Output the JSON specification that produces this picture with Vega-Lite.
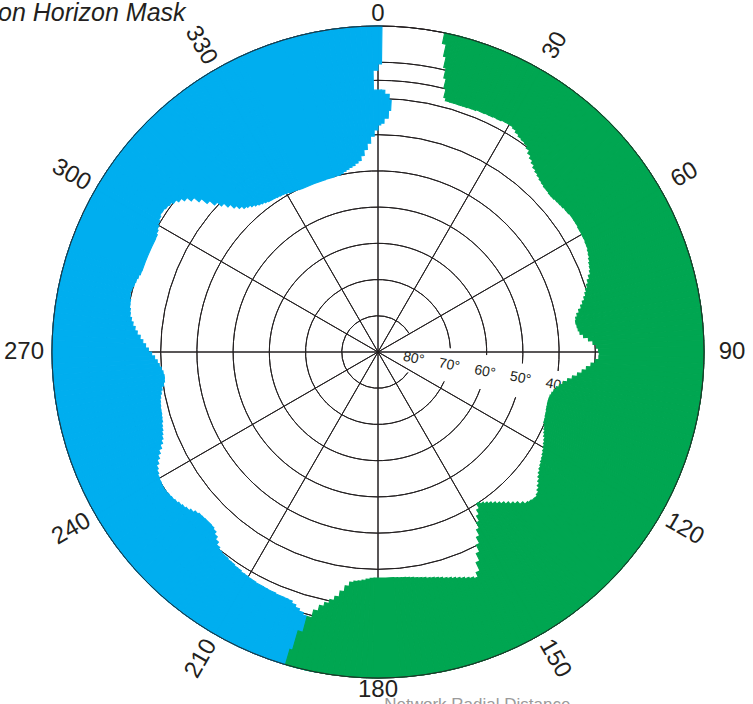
{
  "$schema": "https://vega.github.io/schema/vega-lite/v6.json",
  "width": 756,
  "height": 704,
  "autosize": "none",
  "padding": 0,
  "background": "white",
  "title": {"text": "Station Horizon Mask", "anchor": "start", "frame": "group", "orient": "top", "offset": -46, "dx": -52, "baseline": "alphabetic", "font": "Liberation Sans", "fontSize": 25, "fontStyle": "italic", "fontWeight": "normal", "color": "#231f20"},
  "config": {"view": {"stroke": null}},
  "datasets": {
    "mask": [
      {"mask": "green", "from": 11.8, "to": 12.5, "elev": 3.0, "top": 0},
      {"mask": "green", "from": 12.5, "to": 13, "elev": 6.4, "top": 0},
      {"mask": "green", "from": 13, "to": 13.5, "elev": 9.4, "top": 0},
      {"mask": "green", "from": 13.5, "to": 14, "elev": 12.2, "top": 0},
      {"mask": "green", "from": 14, "to": 14.5, "elev": 14.9, "top": 0},
      {"mask": "green", "from": 14.5, "to": 15, "elev": 17.4, "top": 0},
      {"mask": "green", "from": 15, "to": 16, "elev": 18.2, "top": 0},
      {"mask": "green", "from": 16, "to": 17, "elev": 18.2, "top": 0},
      {"mask": "green", "from": 17, "to": 18, "elev": 18.2, "top": 0},
      {"mask": "green", "from": 18, "to": 19, "elev": 18.2, "top": 0},
      {"mask": "green", "from": 19, "to": 20, "elev": 18.2, "top": 0},
      {"mask": "green", "from": 20, "to": 21, "elev": 18.1, "top": 0},
      {"mask": "green", "from": 21, "to": 22, "elev": 18.1, "top": 0},
      {"mask": "green", "from": 22, "to": 23, "elev": 17.9, "top": 0},
      {"mask": "green", "from": 23, "to": 24, "elev": 17.9, "top": 0},
      {"mask": "green", "from": 24, "to": 25, "elev": 17.8, "top": 0},
      {"mask": "green", "from": 25, "to": 26, "elev": 17.8, "top": 0},
      {"mask": "green", "from": 26, "to": 27, "elev": 17.7, "top": 0},
      {"mask": "green", "from": 27, "to": 28, "elev": 17.7, "top": 0},
      {"mask": "green", "from": 28, "to": 29, "elev": 17.5, "top": 0},
      {"mask": "green", "from": 29, "to": 30, "elev": 17.5, "top": 0},
      {"mask": "green", "from": 30, "to": 31, "elev": 17.5, "top": 0},
      {"mask": "green", "from": 31, "to": 32, "elev": 17.9, "top": 0},
      {"mask": "green", "from": 32, "to": 33, "elev": 18.5, "top": 0},
      {"mask": "green", "from": 33, "to": 34, "elev": 19.0, "top": 0},
      {"mask": "green", "from": 34, "to": 35, "elev": 19.3, "top": 0},
      {"mask": "green", "from": 35, "to": 36, "elev": 19.7, "top": 0},
      {"mask": "green", "from": 36, "to": 37, "elev": 20.4, "top": 0},
      {"mask": "green", "from": 37, "to": 38, "elev": 21.3, "top": 0},
      {"mask": "green", "from": 38, "to": 39, "elev": 22.1, "top": 0},
      {"mask": "green", "from": 39, "to": 40, "elev": 22.8, "top": 0},
      {"mask": "green", "from": 40, "to": 41, "elev": 23.5, "top": 0},
      {"mask": "green", "from": 41, "to": 42, "elev": 24.0, "top": 0},
      {"mask": "green", "from": 42, "to": 43, "elev": 24.4, "top": 0},
      {"mask": "green", "from": 43, "to": 44, "elev": 24.8, "top": 0},
      {"mask": "green", "from": 44, "to": 45, "elev": 25.1, "top": 0},
      {"mask": "green", "from": 45, "to": 46, "elev": 25.4, "top": 0},
      {"mask": "green", "from": 46, "to": 47, "elev": 25.5, "top": 0},
      {"mask": "green", "from": 47, "to": 48, "elev": 25.7, "top": 0},
      {"mask": "green", "from": 48, "to": 49, "elev": 25.7, "top": 0},
      {"mask": "green", "from": 49, "to": 50, "elev": 25.5, "top": 0},
      {"mask": "green", "from": 50, "to": 51, "elev": 25.4, "top": 0},
      {"mask": "green", "from": 51, "to": 52, "elev": 25.3, "top": 0},
      {"mask": "green", "from": 52, "to": 53, "elev": 25.1, "top": 0},
      {"mask": "green", "from": 53, "to": 54, "elev": 25.0, "top": 0},
      {"mask": "green", "from": 54, "to": 55, "elev": 24.8, "top": 0},
      {"mask": "green", "from": 55, "to": 56, "elev": 24.8, "top": 0},
      {"mask": "green", "from": 56, "to": 57, "elev": 24.8, "top": 0},
      {"mask": "green", "from": 57, "to": 58, "elev": 24.8, "top": 0},
      {"mask": "green", "from": 58, "to": 59, "elev": 25.0, "top": 0},
      {"mask": "green", "from": 59, "to": 60, "elev": 25.0, "top": 0},
      {"mask": "green", "from": 60, "to": 61, "elev": 25.1, "top": 0},
      {"mask": "green", "from": 61, "to": 62, "elev": 25.1, "top": 0},
      {"mask": "green", "from": 62, "to": 63, "elev": 25.3, "top": 0},
      {"mask": "green", "from": 63, "to": 64, "elev": 25.4, "top": 0},
      {"mask": "green", "from": 64, "to": 65, "elev": 25.7, "top": 0},
      {"mask": "green", "from": 65, "to": 66, "elev": 26.0, "top": 0},
      {"mask": "green", "from": 66, "to": 67, "elev": 26.4, "top": 0},
      {"mask": "green", "from": 67, "to": 68, "elev": 26.8, "top": 0},
      {"mask": "green", "from": 68, "to": 69, "elev": 27.1, "top": 0},
      {"mask": "green", "from": 69, "to": 70, "elev": 27.5, "top": 0},
      {"mask": "green", "from": 70, "to": 71, "elev": 28.2, "top": 0},
      {"mask": "green", "from": 71, "to": 72, "elev": 28.9, "top": 0},
      {"mask": "green", "from": 72, "to": 73, "elev": 29.5, "top": 0},
      {"mask": "green", "from": 73, "to": 74, "elev": 30.1, "top": 0},
      {"mask": "green", "from": 74, "to": 75, "elev": 30.6, "top": 0},
      {"mask": "green", "from": 75, "to": 76, "elev": 31.2, "top": 0},
      {"mask": "green", "from": 76, "to": 77, "elev": 31.9, "top": 0},
      {"mask": "green", "from": 77, "to": 78, "elev": 32.6, "top": 0},
      {"mask": "green", "from": 78, "to": 79, "elev": 33.4, "top": 0},
      {"mask": "green", "from": 79, "to": 80, "elev": 34.1, "top": 0},
      {"mask": "green", "from": 80, "to": 81, "elev": 34.6, "top": 0},
      {"mask": "green", "from": 81, "to": 82, "elev": 34.8, "top": 0},
      {"mask": "green", "from": 82, "to": 83, "elev": 34.6, "top": 0},
      {"mask": "green", "from": 83, "to": 84, "elev": 34.4, "top": 0},
      {"mask": "green", "from": 84, "to": 85, "elev": 34.0, "top": 0},
      {"mask": "green", "from": 85, "to": 86, "elev": 33.1, "top": 0},
      {"mask": "green", "from": 86, "to": 87, "elev": 31.8, "top": 0},
      {"mask": "green", "from": 87, "to": 88, "elev": 30.6, "top": 0},
      {"mask": "green", "from": 88, "to": 89, "elev": 29.7, "top": 0},
      {"mask": "green", "from": 89, "to": 90, "elev": 29.1, "top": 0},
      {"mask": "green", "from": 90, "to": 91, "elev": 28.9, "top": 0},
      {"mask": "green", "from": 91, "to": 92, "elev": 29.0, "top": 0},
      {"mask": "green", "from": 92, "to": 93, "elev": 30.0, "top": 0},
      {"mask": "green", "from": 93, "to": 94, "elev": 31.1, "top": 0},
      {"mask": "green", "from": 94, "to": 95, "elev": 32.3, "top": 0},
      {"mask": "green", "from": 95, "to": 96, "elev": 33.4, "top": 0},
      {"mask": "green", "from": 96, "to": 97, "elev": 34.6, "top": 0},
      {"mask": "green", "from": 97, "to": 98, "elev": 35.9, "top": 0},
      {"mask": "green", "from": 98, "to": 99, "elev": 37.1, "top": 0},
      {"mask": "green", "from": 99, "to": 100, "elev": 38.2, "top": 0},
      {"mask": "green", "from": 100, "to": 101, "elev": 39.1, "top": 0},
      {"mask": "green", "from": 101, "to": 102, "elev": 39.8, "top": 0},
      {"mask": "green", "from": 102, "to": 103, "elev": 40.3, "top": 0},
      {"mask": "green", "from": 103, "to": 104, "elev": 40.7, "top": 0},
      {"mask": "green", "from": 104, "to": 105, "elev": 41.0, "top": 0},
      {"mask": "green", "from": 105, "to": 106, "elev": 41.1, "top": 0},
      {"mask": "green", "from": 106, "to": 107, "elev": 41.1, "top": 0},
      {"mask": "green", "from": 107, "to": 108, "elev": 41.0, "top": 0},
      {"mask": "green", "from": 108, "to": 109, "elev": 40.9, "top": 0},
      {"mask": "green", "from": 109, "to": 110, "elev": 40.7, "top": 0},
      {"mask": "green", "from": 110, "to": 111, "elev": 40.6, "top": 0},
      {"mask": "green", "from": 111, "to": 112, "elev": 40.4, "top": 0},
      {"mask": "green", "from": 112, "to": 113, "elev": 40.3, "top": 0},
      {"mask": "green", "from": 113, "to": 114, "elev": 39.9, "top": 0},
      {"mask": "green", "from": 114, "to": 115, "elev": 39.5, "top": 0},
      {"mask": "green", "from": 115, "to": 116, "elev": 39.1, "top": 0},
      {"mask": "green", "from": 116, "to": 117, "elev": 38.7, "top": 0},
      {"mask": "green", "from": 117, "to": 118, "elev": 38.2, "top": 0},
      {"mask": "green", "from": 118, "to": 119, "elev": 37.8, "top": 0},
      {"mask": "green", "from": 119, "to": 120, "elev": 37.4, "top": 0},
      {"mask": "green", "from": 120, "to": 121, "elev": 37.0, "top": 0},
      {"mask": "green", "from": 121, "to": 122, "elev": 36.6, "top": 0},
      {"mask": "green", "from": 122, "to": 123, "elev": 36.2, "top": 0},
      {"mask": "green", "from": 123, "to": 124, "elev": 35.9, "top": 0},
      {"mask": "green", "from": 124, "to": 125, "elev": 35.5, "top": 0},
      {"mask": "green", "from": 125, "to": 126, "elev": 35.1, "top": 0},
      {"mask": "green", "from": 126, "to": 127, "elev": 34.6, "top": 0},
      {"mask": "green", "from": 127, "to": 128, "elev": 34.0, "top": 0},
      {"mask": "green", "from": 128, "to": 129, "elev": 33.3, "top": 0},
      {"mask": "green", "from": 129, "to": 130, "elev": 32.6, "top": 0},
      {"mask": "green", "from": 130, "to": 131, "elev": 31.9, "top": 0},
      {"mask": "green", "from": 131, "to": 132, "elev": 31.2, "top": 0},
      {"mask": "green", "from": 132, "to": 133, "elev": 30.8, "top": 0},
      {"mask": "green", "from": 133, "to": 134, "elev": 30.9, "top": 0},
      {"mask": "green", "from": 134, "to": 135, "elev": 31.2, "top": 0},
      {"mask": "green", "from": 135, "to": 136, "elev": 31.6, "top": 0},
      {"mask": "green", "from": 136, "to": 137, "elev": 32.5, "top": 0},
      {"mask": "green", "from": 137, "to": 138, "elev": 33.5, "top": 0},
      {"mask": "green", "from": 138, "to": 139, "elev": 34.3, "top": 0},
      {"mask": "green", "from": 139, "to": 140, "elev": 35.2, "top": 0},
      {"mask": "green", "from": 140, "to": 141, "elev": 36.0, "top": 0},
      {"mask": "green", "from": 141, "to": 142, "elev": 36.7, "top": 0},
      {"mask": "green", "from": 142, "to": 143, "elev": 37.5, "top": 0},
      {"mask": "green", "from": 143, "to": 144, "elev": 38.2, "top": 0},
      {"mask": "green", "from": 144, "to": 145, "elev": 38.8, "top": 0},
      {"mask": "green", "from": 145, "to": 146, "elev": 39.4, "top": 0},
      {"mask": "green", "from": 146, "to": 147, "elev": 40.0, "top": 0},
      {"mask": "green", "from": 147, "to": 148, "elev": 38.6, "top": 0},
      {"mask": "green", "from": 148, "to": 149, "elev": 37.2, "top": 0},
      {"mask": "green", "from": 149, "to": 150, "elev": 35.6, "top": 0},
      {"mask": "green", "from": 150, "to": 151, "elev": 33.9, "top": 0},
      {"mask": "green", "from": 151, "to": 152, "elev": 32.1, "top": 0},
      {"mask": "green", "from": 152, "to": 153, "elev": 30.2, "top": 0},
      {"mask": "green", "from": 153, "to": 154, "elev": 28.1, "top": 0},
      {"mask": "green", "from": 154, "to": 155, "elev": 25.9, "top": 0},
      {"mask": "green", "from": 155, "to": 156, "elev": 23.4, "top": 0},
      {"mask": "green", "from": 156, "to": 157, "elev": 22.0, "top": 0},
      {"mask": "green", "from": 157, "to": 158, "elev": 22.5, "top": 0},
      {"mask": "green", "from": 158, "to": 159, "elev": 22.9, "top": 0},
      {"mask": "green", "from": 159, "to": 160, "elev": 23.4, "top": 0},
      {"mask": "green", "from": 160, "to": 161, "elev": 23.8, "top": 0},
      {"mask": "green", "from": 161, "to": 162, "elev": 24.2, "top": 0},
      {"mask": "green", "from": 162, "to": 163, "elev": 24.6, "top": 0},
      {"mask": "green", "from": 163, "to": 164, "elev": 24.9, "top": 0},
      {"mask": "green", "from": 164, "to": 165, "elev": 25.3, "top": 0},
      {"mask": "green", "from": 165, "to": 166, "elev": 25.6, "top": 0},
      {"mask": "green", "from": 166, "to": 167, "elev": 25.9, "top": 0},
      {"mask": "green", "from": 167, "to": 168, "elev": 26.1, "top": 0},
      {"mask": "green", "from": 168, "to": 169, "elev": 26.4, "top": 0},
      {"mask": "green", "from": 169, "to": 170, "elev": 26.6, "top": 0},
      {"mask": "green", "from": 170, "to": 171, "elev": 26.8, "top": 0},
      {"mask": "green", "from": 171, "to": 172, "elev": 27.0, "top": 0},
      {"mask": "green", "from": 172, "to": 173, "elev": 27.2, "top": 0},
      {"mask": "green", "from": 173, "to": 174, "elev": 27.3, "top": 0},
      {"mask": "green", "from": 174, "to": 175, "elev": 27.4, "top": 0},
      {"mask": "green", "from": 175, "to": 176, "elev": 27.5, "top": 0},
      {"mask": "green", "from": 176, "to": 181, "elev": 27.6, "top": 0},
      {"mask": "green", "from": 181, "to": 182, "elev": 27.5, "top": 0},
      {"mask": "green", "from": 182, "to": 183, "elev": 27.2, "top": 0},
      {"mask": "green", "from": 183, "to": 184, "elev": 26.9, "top": 0},
      {"mask": "green", "from": 184, "to": 185, "elev": 26.6, "top": 0},
      {"mask": "green", "from": 185, "to": 186, "elev": 26.4, "top": 0},
      {"mask": "green", "from": 186, "to": 187, "elev": 26.0, "top": 0},
      {"mask": "green", "from": 187, "to": 188, "elev": 24.8, "top": 0},
      {"mask": "green", "from": 188, "to": 189, "elev": 23.2, "top": 0},
      {"mask": "green", "from": 189, "to": 190, "elev": 21.5, "top": 0},
      {"mask": "green", "from": 190, "to": 191, "elev": 20.4, "top": 0},
      {"mask": "green", "from": 191, "to": 192, "elev": 19.3, "top": 0},
      {"mask": "green", "from": 192, "to": 193, "elev": 18.2, "top": 0},
      {"mask": "green", "from": 193, "to": 194, "elev": 16.6, "top": 0},
      {"mask": "green", "from": 194, "to": 195, "elev": 14.4, "top": 0},
      {"mask": "green", "from": 195, "to": 196, "elev": 9.9, "top": 0},
      {"mask": "green", "from": 196, "to": 196.5, "elev": 4.4, "top": 0},
      {"mask": "blue", "from": 191, "to": 193, "elev": 12.7, "top": 0},
      {"mask": "blue", "from": 193, "to": 194, "elev": 13.3, "top": 0},
      {"mask": "blue", "from": 194, "to": 195, "elev": 13.8, "top": 0},
      {"mask": "blue", "from": 195, "to": 196, "elev": 14.5, "top": 0},
      {"mask": "blue", "from": 196, "to": 197, "elev": 15.2, "top": 0},
      {"mask": "blue", "from": 197, "to": 198, "elev": 15.9, "top": 0},
      {"mask": "blue", "from": 198, "to": 199, "elev": 16.6, "top": 0},
      {"mask": "blue", "from": 199, "to": 200, "elev": 17.3, "top": 0},
      {"mask": "blue", "from": 200, "to": 201, "elev": 17.4, "top": 0},
      {"mask": "blue", "from": 201, "to": 203, "elev": 17.5, "top": 0},
      {"mask": "blue", "from": 203, "to": 205, "elev": 17.7, "top": 0},
      {"mask": "blue", "from": 205, "to": 206, "elev": 17.8, "top": 0},
      {"mask": "blue", "from": 206, "to": 208, "elev": 17.9, "top": 0},
      {"mask": "blue", "from": 208, "to": 209, "elev": 18.1, "top": 0},
      {"mask": "blue", "from": 209, "to": 210, "elev": 18.2, "top": 0},
      {"mask": "blue", "from": 210, "to": 211, "elev": 18.4, "top": 0},
      {"mask": "blue", "from": 211, "to": 212, "elev": 18.5, "top": 0},
      {"mask": "blue", "from": 212, "to": 213, "elev": 18.8, "top": 0},
      {"mask": "blue", "from": 213, "to": 214, "elev": 18.9, "top": 0},
      {"mask": "blue", "from": 214, "to": 215, "elev": 19.2, "top": 0},
      {"mask": "blue", "from": 215, "to": 216, "elev": 19.3, "top": 0},
      {"mask": "blue", "from": 216, "to": 217, "elev": 19.6, "top": 0},
      {"mask": "blue", "from": 217, "to": 218, "elev": 19.7, "top": 0},
      {"mask": "blue", "from": 218, "to": 219, "elev": 20.0, "top": 0},
      {"mask": "blue", "from": 219, "to": 220, "elev": 20.6, "top": 0},
      {"mask": "blue", "from": 220, "to": 221, "elev": 21.5, "top": 0},
      {"mask": "blue", "from": 221, "to": 222, "elev": 22.4, "top": 0},
      {"mask": "blue", "from": 222, "to": 223, "elev": 23.2, "top": 0},
      {"mask": "blue", "from": 223, "to": 224, "elev": 23.6, "top": 0},
      {"mask": "blue", "from": 224, "to": 226, "elev": 23.7, "top": 0},
      {"mask": "blue", "from": 226, "to": 227, "elev": 23.6, "top": 0},
      {"mask": "blue", "from": 227, "to": 228, "elev": 23.5, "top": 0},
      {"mask": "blue", "from": 228, "to": 229, "elev": 23.1, "top": 0},
      {"mask": "blue", "from": 229, "to": 230, "elev": 22.5, "top": 0},
      {"mask": "blue", "from": 230, "to": 231, "elev": 21.9, "top": 0},
      {"mask": "blue", "from": 231, "to": 232, "elev": 21.5, "top": 0},
      {"mask": "blue", "from": 232, "to": 233, "elev": 21.1, "top": 0},
      {"mask": "blue", "from": 233, "to": 234, "elev": 20.7, "top": 0},
      {"mask": "blue", "from": 234, "to": 235, "elev": 20.4, "top": 0},
      {"mask": "blue", "from": 235, "to": 236, "elev": 20.2, "top": 0},
      {"mask": "blue", "from": 236, "to": 237, "elev": 20.0, "top": 0},
      {"mask": "blue", "from": 237, "to": 238, "elev": 19.9, "top": 0},
      {"mask": "blue", "from": 238, "to": 239, "elev": 20.0, "top": 0},
      {"mask": "blue", "from": 239, "to": 240, "elev": 20.2, "top": 0},
      {"mask": "blue", "from": 240, "to": 241, "elev": 20.4, "top": 0},
      {"mask": "blue", "from": 241, "to": 242, "elev": 20.8, "top": 0},
      {"mask": "blue", "from": 242, "to": 243, "elev": 21.3, "top": 0},
      {"mask": "blue", "from": 243, "to": 244, "elev": 22.1, "top": 0},
      {"mask": "blue", "from": 244, "to": 245, "elev": 22.9, "top": 0},
      {"mask": "blue", "from": 245, "to": 246, "elev": 23.7, "top": 0},
      {"mask": "blue", "from": 246, "to": 247, "elev": 24.6, "top": 0},
      {"mask": "blue", "from": 247, "to": 248, "elev": 25.4, "top": 0},
      {"mask": "blue", "from": 248, "to": 249, "elev": 26.0, "top": 0},
      {"mask": "blue", "from": 249, "to": 250, "elev": 26.4, "top": 0},
      {"mask": "blue", "from": 250, "to": 251, "elev": 26.8, "top": 0},
      {"mask": "blue", "from": 251, "to": 252, "elev": 27.1, "top": 0},
      {"mask": "blue", "from": 252, "to": 253, "elev": 27.5, "top": 0},
      {"mask": "blue", "from": 253, "to": 254, "elev": 27.7, "top": 0},
      {"mask": "blue", "from": 254, "to": 255, "elev": 27.9, "top": 0},
      {"mask": "blue", "from": 255, "to": 256, "elev": 28.0, "top": 0},
      {"mask": "blue", "from": 256, "to": 257, "elev": 28.2, "top": 0},
      {"mask": "blue", "from": 257, "to": 258, "elev": 28.4, "top": 0},
      {"mask": "blue", "from": 258, "to": 259, "elev": 28.7, "top": 0},
      {"mask": "blue", "from": 259, "to": 260, "elev": 29.1, "top": 0},
      {"mask": "blue", "from": 260, "to": 261, "elev": 29.5, "top": 0},
      {"mask": "blue", "from": 261, "to": 262, "elev": 30.1, "top": 0},
      {"mask": "blue", "from": 262, "to": 263, "elev": 30.5, "top": 0},
      {"mask": "blue", "from": 263, "to": 264, "elev": 30.6, "top": 0},
      {"mask": "blue", "from": 264, "to": 265, "elev": 30.4, "top": 0},
      {"mask": "blue", "from": 265, "to": 266, "elev": 30.0, "top": 0},
      {"mask": "blue", "from": 266, "to": 267, "elev": 29.5, "top": 0},
      {"mask": "blue", "from": 267, "to": 268, "elev": 29.0, "top": 0},
      {"mask": "blue", "from": 268, "to": 269, "elev": 28.3, "top": 0},
      {"mask": "blue", "from": 269, "to": 270, "elev": 27.5, "top": 0},
      {"mask": "blue", "from": 270, "to": 271, "elev": 26.6, "top": 0},
      {"mask": "blue", "from": 271, "to": 272, "elev": 25.8, "top": 0},
      {"mask": "blue", "from": 272, "to": 273, "elev": 25.0, "top": 0},
      {"mask": "blue", "from": 273, "to": 274, "elev": 24.2, "top": 0},
      {"mask": "blue", "from": 274, "to": 275, "elev": 23.3, "top": 0},
      {"mask": "blue", "from": 275, "to": 276, "elev": 22.6, "top": 0},
      {"mask": "blue", "from": 276, "to": 277, "elev": 21.9, "top": 0},
      {"mask": "blue", "from": 277, "to": 278, "elev": 21.3, "top": 0},
      {"mask": "blue", "from": 278, "to": 279, "elev": 20.8, "top": 0},
      {"mask": "blue", "from": 279, "to": 280, "elev": 20.6, "top": 0},
      {"mask": "blue", "from": 280, "to": 281, "elev": 20.3, "top": 0},
      {"mask": "blue", "from": 281, "to": 282, "elev": 20.2, "top": 0},
      {"mask": "blue", "from": 282, "to": 283, "elev": 19.9, "top": 0},
      {"mask": "blue", "from": 283, "to": 284, "elev": 19.7, "top": 0},
      {"mask": "blue", "from": 284, "to": 285, "elev": 19.9, "top": 0},
      {"mask": "blue", "from": 285, "to": 286, "elev": 20.2, "top": 0},
      {"mask": "blue", "from": 286, "to": 287, "elev": 20.4, "top": 0},
      {"mask": "blue", "from": 287, "to": 288, "elev": 20.7, "top": 0},
      {"mask": "blue", "from": 288, "to": 289, "elev": 21.0, "top": 0},
      {"mask": "blue", "from": 289, "to": 297, "elev": 21.1, "top": 0},
      {"mask": "blue", "from": 297, "to": 298, "elev": 21.0, "top": 0},
      {"mask": "blue", "from": 298, "to": 299, "elev": 20.6, "top": 0},
      {"mask": "blue", "from": 299, "to": 300, "elev": 20.2, "top": 0},
      {"mask": "blue", "from": 300, "to": 301, "elev": 19.7, "top": 0},
      {"mask": "blue", "from": 301, "to": 302, "elev": 19.3, "top": 0},
      {"mask": "blue", "from": 302, "to": 303, "elev": 18.9, "top": 0},
      {"mask": "blue", "from": 303, "to": 304, "elev": 19.0, "top": 0},
      {"mask": "blue", "from": 304, "to": 305, "elev": 19.3, "top": 0},
      {"mask": "blue", "from": 305, "to": 306, "elev": 19.6, "top": 0},
      {"mask": "blue", "from": 306, "to": 307, "elev": 20.2, "top": 0},
      {"mask": "blue", "from": 307, "to": 308, "elev": 21.1, "top": 0},
      {"mask": "blue", "from": 308, "to": 309, "elev": 22.2, "top": 0},
      {"mask": "blue", "from": 309, "to": 310, "elev": 23.7, "top": 0},
      {"mask": "blue", "from": 310, "to": 311, "elev": 25.5, "top": 0},
      {"mask": "blue", "from": 311, "to": 312, "elev": 27.5, "top": 0},
      {"mask": "blue", "from": 312, "to": 313, "elev": 29.3, "top": 0},
      {"mask": "blue", "from": 313, "to": 314, "elev": 30.9, "top": 0},
      {"mask": "blue", "from": 314, "to": 315, "elev": 32.4, "top": 0},
      {"mask": "blue", "from": 315, "to": 316, "elev": 33.8, "top": 0},
      {"mask": "blue", "from": 316, "to": 317, "elev": 34.9, "top": 0},
      {"mask": "blue", "from": 317, "to": 318, "elev": 35.8, "top": 0},
      {"mask": "blue", "from": 318, "to": 319, "elev": 36.3, "top": 0},
      {"mask": "blue", "from": 319, "to": 320, "elev": 36.9, "top": 0},
      {"mask": "blue", "from": 320, "to": 321, "elev": 37.4, "top": 0},
      {"mask": "blue", "from": 321, "to": 322, "elev": 37.8, "top": 0},
      {"mask": "blue", "from": 322, "to": 323, "elev": 38.1, "top": 0},
      {"mask": "blue", "from": 323, "to": 324, "elev": 38.4, "top": 0},
      {"mask": "blue", "from": 324, "to": 325, "elev": 38.7, "top": 0},
      {"mask": "blue", "from": 325, "to": 326, "elev": 38.8, "top": 0},
      {"mask": "blue", "from": 326, "to": 327, "elev": 38.9, "top": 0},
      {"mask": "blue", "from": 327, "to": 328, "elev": 39.1, "top": 0},
      {"mask": "blue", "from": 328, "to": 329, "elev": 39.2, "top": 0},
      {"mask": "blue", "from": 329, "to": 330, "elev": 39.3, "top": 0},
      {"mask": "blue", "from": 330, "to": 331, "elev": 39.5, "top": 0},
      {"mask": "blue", "from": 331, "to": 332, "elev": 39.8, "top": 0},
      {"mask": "blue", "from": 332, "to": 333, "elev": 39.9, "top": 0},
      {"mask": "blue", "from": 333, "to": 334, "elev": 40.0, "top": 0},
      {"mask": "blue", "from": 334, "to": 335, "elev": 40.2, "top": 0},
      {"mask": "blue", "from": 335, "to": 343, "elev": 40.3, "top": 0},
      {"mask": "blue", "from": 343, "to": 346, "elev": 40.2, "top": 0},
      {"mask": "blue", "from": 346, "to": 348, "elev": 40.0, "top": 0},
      {"mask": "blue", "from": 348, "to": 349, "elev": 39.8, "top": 0},
      {"mask": "blue", "from": 349, "to": 350, "elev": 39.3, "top": 0},
      {"mask": "blue", "from": 350, "to": 351, "elev": 38.9, "top": 0},
      {"mask": "blue", "from": 351, "to": 352, "elev": 38.5, "top": 0},
      {"mask": "blue", "from": 352, "to": 353, "elev": 38.1, "top": 0},
      {"mask": "blue", "from": 353, "to": 354, "elev": 37.5, "top": 0},
      {"mask": "blue", "from": 354, "to": 355, "elev": 36.9, "top": 0},
      {"mask": "blue", "from": 355, "to": 356, "elev": 35.6, "top": 0},
      {"mask": "blue", "from": 356, "to": 357, "elev": 34.0, "top": 0},
      {"mask": "blue", "from": 357, "to": 358, "elev": 32.3, "top": 0},
      {"mask": "blue", "from": 358, "to": 359, "elev": 30.4, "top": 0},
      {"mask": "blue", "from": 359, "to": 360, "elev": 28.7, "top": 17.7},
      {"mask": "blue", "from": 359, "to": 360, "elev": 12.2, "top": 0},
      {"mask": "blue", "from": 0, "to": 0.7, "elev": 27.3, "top": 17.7},
      {"mask": "blue", "from": 0, "to": 0.7, "elev": 10.5, "top": 0},
      {"mask": "blue", "from": 0.7, "to": 1.5, "elev": 26.8, "top": 17.7},
      {"mask": "blue", "from": 1.5, "to": 2.5, "elev": 25.4, "top": 18.8},
      {"mask": "blue", "from": 2.5, "to": 3, "elev": 23.2, "top": 20.4}
    ],
    "rings": [
      {"elev": 80, "from": 124.5, "to": 419},
      {"elev": 70, "from": 114, "to": 447},
      {"elev": 60, "from": 110, "to": 451.6},
      {"elev": 50, "from": 108.2, "to": 454.5},
      {"elev": 40, "from": 107.5, "to": 456},
      {"elev": 30, "from": 0, "to": 360},
      {"elev": 20, "from": 0, "to": 360},
      {"elev": 15, "from": 0, "to": 360},
      {"elev": 10, "from": 0, "to": 360}
    ],
    "spokes": [
      {"az": 0}, {"az": 30}, {"az": 60}, {"az": 90}, {"az": 120}, {"az": 150},
      {"az": 180}, {"az": 210}, {"az": 240}, {"az": 270}, {"az": 300}, {"az": 330}
    ],
    "azlabels": [
      {"az": 0, "label": "0"}, {"az": 30, "label": "30"}, {"az": 60, "label": "60"},
      {"az": 90, "label": "90"}, {"az": 120, "label": "120"}, {"az": 150, "label": "150"},
      {"az": 180, "label": "180"}, {"az": 210, "label": "210"}, {"az": 240, "label": "240"},
      {"az": 270, "label": "270"}, {"az": 300, "label": "300"}, {"az": 330, "label": "330"}
    ],
    "ellabels": [
      {"elev": 80, "label": "80°"}, {"elev": 70, "label": "70°"}, {"elev": 60, "label": "60°"},
      {"elev": 50, "label": "50°"}, {"elev": 40, "label": "40°"}
    ]
  },
  "layer": [
    {
      "data": {"name": "rings"},
      "mark": {"type": "arc", "filled": false, "fillOpacity": 0, "stroke": "#231f20", "strokeWidth": 1},
      "encoding": {
        "theta": {"field": "from", "type": "quantitative", "stack": null, "scale": {"type": "linear", "domain": [0, 360], "range": [0, 6.283185307179586]}},
        "theta2": {"field": "to"},
        "radius": {"field": "elev", "type": "quantitative", "scale": {"type": "linear", "domain": [90, 0], "range": [0, 326], "zero": false}},
        "radius2": {"field": "elev"}
      }
    },
    {
      "data": {"name": "spokes"},
      "mark": {"type": "arc", "filled": false, "fillOpacity": 0, "stroke": "#231f20", "strokeWidth": 1},
      "encoding": {
        "theta": {"field": "az", "type": "quantitative", "stack": null, "scale": {"type": "linear", "domain": [0, 360], "range": [0, 6.283185307179586]}},
        "theta2": {"field": "az"},
        "radius": {"datum": 0, "type": "quantitative", "scale": {"type": "linear", "domain": [90, 0], "range": [0, 326], "zero": false}},
        "radius2": {"datum": 90}
      }
    },
    {
      "data": {"name": "ellabels"},
      "mark": {"type": "text", "font": "Liberation Sans", "fontSize": 14, "color": "#231f20", "align": "center", "baseline": "middle", "angle": 11},
      "encoding": {
        "theta": {"datum": 100.5, "type": "quantitative", "scale": {"type": "linear", "domain": [0, 360], "range": [0, 6.283185307179586]}},
        "radius": {"field": "elev", "type": "quantitative", "scale": {"type": "linear", "domain": [90, 0], "range": [0, 326], "zero": false}},
        "text": {"field": "label"}
      }
    },
    {
      "data": {"values": [{"elev": 0}]},
      "mark": {"type": "arc", "filled": false, "fillOpacity": 0, "stroke": "#231f20", "strokeWidth": 1},
      "encoding": {
        "theta": {"datum": 0, "type": "quantitative", "scale": {"type": "linear", "domain": [0, 360], "range": [0, 6.283185307179586]}},
        "theta2": {"datum": 360},
        "radius": {"field": "elev", "type": "quantitative", "scale": {"type": "linear", "domain": [90, 0], "range": [0, 326], "zero": false}},
        "radius2": {"field": "elev"}
      }
    },
    {
      "data": {"name": "mask"},
      "transform": [{"filter": "datum.mask === 'blue'"}],
      "mark": {"type": "arc", "fill": "#00aeef", "stroke": "#00aeef", "strokeWidth": 1.1},
      "encoding": {
        "theta": {"field": "from", "type": "quantitative", "stack": null, "scale": {"type": "linear", "domain": [0, 360], "range": [0, 6.283185307179586]}},
        "theta2": {"field": "to"},
        "radius": {"field": "elev", "type": "quantitative", "scale": {"type": "linear", "domain": [90, 0], "range": [0, 326], "zero": false}},
        "radius2": {"field": "top"}
      }
    },
    {
      "data": {"name": "mask"},
      "transform": [{"filter": "datum.mask === 'green'"}],
      "mark": {"type": "arc", "fill": "#00a651", "stroke": "#00a651", "strokeWidth": 1.1},
      "encoding": {
        "theta": {"field": "from", "type": "quantitative", "stack": null, "scale": {"type": "linear", "domain": [0, 360], "range": [0, 6.283185307179586]}},
        "theta2": {"field": "to"},
        "radius": {"field": "elev", "type": "quantitative", "scale": {"type": "linear", "domain": [90, 0], "range": [0, 326], "zero": false}},
        "radius2": {"field": "top"}
      }
    },
    {
      "data": {"values": [{"elev": 0}]},
      "mark": {"type": "arc", "filled": false, "fillOpacity": 0, "stroke": "#231f20", "strokeWidth": 0.6},
      "encoding": {
        "theta": {"datum": 0, "type": "quantitative", "scale": {"type": "linear", "domain": [0, 360], "range": [0, 6.283185307179586]}},
        "theta2": {"datum": 360},
        "radius": {"field": "elev", "type": "quantitative", "scale": {"type": "linear", "domain": [90, 0], "range": [0, 326.5], "zero": false}},
        "radius2": {"field": "elev"}
      }
    },
    {
      "data": {"name": "azlabels"},
      "transform": [{"filter": "datum.az === 0 || datum.az === 180"}],
      "mark": {"type": "text", "font": "Liberation Sans", "fontSize": 24, "color": "#231f20", "align": "center", "baseline": "middle", "radius": 338},
      "encoding": {
        "theta": {"field": "az", "type": "quantitative", "stack": null, "scale": {"type": "linear", "domain": [0, 360], "range": [0, 6.283185307179586]}},
        "text": {"field": "label"}
      }
    },
    {
      "data": {"name": "azlabels"},
      "transform": [{"filter": "datum.az !== 0 && datum.az !== 180"}],
      "mark": {"type": "text", "font": "Liberation Sans", "fontSize": 24, "color": "#231f20", "align": "center", "baseline": "middle", "radius": 354},
      "encoding": {
        "theta": {"field": "az", "type": "quantitative", "stack": null, "scale": {"type": "linear", "domain": [0, 360], "range": [0, 6.283185307179586]}},
        "angle": {"field": "az", "type": "quantitative", "scale": {"type": "threshold", "domain": [15, 45, 75, 105, 135, 165, 195, 225, 255, 285, 315, 345], "range": [0, -60, -30, 0, 30, 60, 0, -60, -30, 0, 30, 60, 0]}, "legend": null},
        "text": {"field": "label"}
      }
    },
    {
      "data": {"values": [{"note": "Network Radial Distance"}]},
      "mark": {"type": "text", "font": "Liberation Sans", "fontSize": 17, "color": "#9a9a9a", "align": "center", "baseline": "middle", "radius": 367},
      "encoding": {
        "theta": {"datum": 164.3, "type": "quantitative", "scale": {"type": "linear", "domain": [0, 360], "range": [0, 6.283185307179586]}},
        "text": {"field": "note"}
      }
    }
  ]
}
